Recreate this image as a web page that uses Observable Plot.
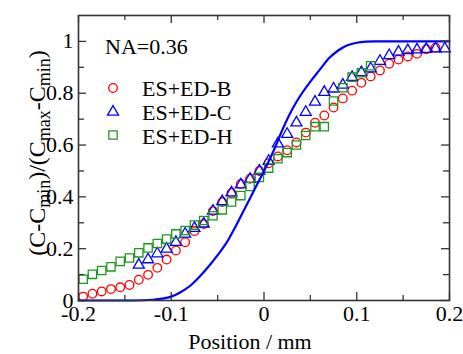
<!DOCTYPE html>
<html><head><meta charset="utf-8">
<script src="https://cdn.jsdelivr.net/npm/d3@7"></script>
<script src="https://cdn.jsdelivr.net/npm/@observablehq/plot@0.6"></script>
<style>
body{margin:0;background:#fff}
svg{display:block}
#chart svg, #chart svg text, #chart svg tspan { font-family: "Liberation Serif", serif !important; }
</style>
</head><body><div id="chart"></div>
<script>
// ES+ED-B (red circles)
const posB = [-0.195,-0.185,-0.175,-0.165,-0.155,-0.145,-0.135,-0.125,-0.115,-0.105,-0.095,-0.085,-0.075,-0.065,-0.055,-0.045,-0.035,-0.025,-0.015,-0.005,0.005,0.015,0.025,0.035,0.045,0.055,0.065,0.075,0.085,0.095,0.105,0.115,0.125,0.135,0.145,0.155,0.165,0.175,0.185];
const valB = [0.015,0.026,0.035,0.044,0.051,0.060,0.080,0.099,0.126,0.158,0.193,0.225,0.268,0.295,0.345,0.380,0.415,0.450,0.470,0.500,0.530,0.556,0.580,0.610,0.648,0.686,0.714,0.745,0.780,0.810,0.840,0.865,0.888,0.914,0.930,0.942,0.952,0.970,0.976];
// ES+ED-C (blue triangles)
const posC = [-0.135,-0.125,-0.115,-0.105,-0.095,-0.085,-0.075,-0.065,-0.055,-0.045,-0.035,-0.025,-0.015,-0.005,0.005,0.015,0.025,0.035,0.045,0.055,0.065,0.075,0.085,0.095,0.105,0.115,0.125,0.135,0.145,0.155,0.165,0.175,0.185,0.195];
const valC = [0.137,0.158,0.181,0.199,0.225,0.257,0.279,0.296,0.346,0.382,0.416,0.447,0.468,0.500,0.538,0.605,0.642,0.686,0.727,0.766,0.804,0.817,0.832,0.862,0.880,0.895,0.924,0.946,0.959,0.965,0.968,0.970,0.972,0.972];
// ES+ED-H (green squares)
const posH = [-0.195,-0.185,-0.175,-0.165,-0.155,-0.145,-0.135,-0.125,-0.115,-0.105,-0.095,-0.085,-0.075,-0.065,-0.055,-0.045,-0.035,-0.025,-0.015,-0.005,0.005,0.015,0.025,0.035,0.045,0.055,0.065,0.075,0.085,0.095,0.105,0.115];
const valH = [0.082,0.101,0.116,0.130,0.151,0.164,0.184,0.203,0.220,0.237,0.257,0.270,0.291,0.309,0.327,0.350,0.380,0.405,0.440,0.475,0.511,0.547,0.571,0.600,0.637,0.671,0.671,0.770,0.821,0.862,0.879,0.906];
// model curve (blue line)
const curveX = [-0.2,-0.15,-0.13,-0.12,-0.11,-0.10,-0.09,-0.08,-0.07,-0.06,-0.05,-0.04,-0.03,-0.02,-0.01,0,0.01,0.02,0.03,0.04,0.05,0.06,0.07,0.08,0.09,0.10,0.11,0.12,0.2];
const curveY = [0,0,0.001,0.003,0.007,0.015,0.032,0.056,0.09,0.130,0.175,0.225,0.29,0.36,0.43,0.50,0.575,0.66,0.735,0.795,0.845,0.89,0.935,0.965,0.985,0.995,0.999,1.0,1.0];
// ticks
const xMajor = [-0.2,-0.1,0,0.1,0.2];
const xMinor = [-0.15,-0.05,0.05,0.15];
const yMajor = [0,0.2,0.4,0.6,0.8,1];
const yMinor = [0.1,0.3,0.5,0.7,0.9];
const seriesNames = ["ES+ED-B","ES+ED-C","ES+ED-H"];
const annotation = "NA=0.36";
const xLabel = "Position / mm";

const W = 463, H = 354, mL = 78, mR = 14, mT = 15, mB = 54;
const iw = W - mL - mR, ih = H - mT - mB;
const RED = "#ff0000", BLUE = "#0000ff", GREEN = "#1f961f", AX = "#333";

const tbl = (xs, ys) => xs.map((x, i) => ({x, y: ys[i]}));
const dB = tbl(posB, valB), dC = tbl(posC, valC), dH = tbl(posH, valH), dL = tbl(curveX, curveY);

const rC = 4.3, rT = 4.1, rS = 4.7;

const plot = Plot.plot({
  width: W, height: H,
  marginLeft: mL, marginRight: mR, marginTop: mT, marginBottom: mB,
  style: "font-family: 'Liberation Serif', serif; font-size: 22px; background: white; color: black;",
  x: {domain: [-0.2, 0.2], axis: null},
  y: {domain: [0, 1.1], axis: null},
  marks: [
    Plot.dot(dB, {x: "x", y: "y", r: rC, symbol: "circle", stroke: RED, strokeWidth: 1.3, fill: "none"}),
    Plot.dot(dC, {x: "x", y: "y", r: rT, symbol: "triangle", stroke: BLUE, strokeWidth: 1.3, fill: "none"}),
    Plot.dot(dH, {x: "x", y: "y", r: rS, symbol: "square", stroke: GREEN, strokeWidth: 1.3, fill: "none"}),
    Plot.line(dL, {x: "x", y: "y", stroke: BLUE, strokeWidth: 2.2, curve: "monotone-x"}),
    Plot.frame({stroke: AX, strokeWidth: 1.6}),
    // inward ticks
    Plot.tickX(xMajor, {x: d => d, insetTop: ih - 8, stroke: AX, strokeWidth: 1.3}),
    Plot.tickX(xMinor, {x: d => d, insetTop: ih - 5, stroke: AX, strokeWidth: 1.3}),
    Plot.tickX(xMajor, {x: d => d, insetBottom: ih - 8, stroke: AX, strokeWidth: 1.3}),
    Plot.tickX(xMinor, {x: d => d, insetBottom: ih - 5, stroke: AX, strokeWidth: 1.3}),
    Plot.tickY(yMajor, {y: d => d, insetRight: iw - 8, stroke: AX, strokeWidth: 1.3}),
    Plot.tickY(yMinor, {y: d => d, insetRight: iw - 6, stroke: AX, strokeWidth: 1.3}),
    Plot.tickY(yMajor, {y: d => d, insetLeft: iw - 8, stroke: AX, strokeWidth: 1.3}),
    Plot.tickY(yMinor, {y: d => d, insetLeft: iw - 6, stroke: AX, strokeWidth: 1.3}),
    Plot.axisX(xMajor, {tickSize: 0, tickPadding: 5, tickFormat: d => String(d), fontSize: 22, label: null}),
    Plot.axisY(yMajor, {tickSize: 0, tickPadding: 5, tickFormat: d => String(d), fontSize: 22, label: null})
  ]
});

const svg = d3.select(plot);
// x axis label
svg.append("text").attr("x", 250).attr("y", 349).attr("text-anchor", "middle")
  .style("font-size", "22px").attr("fill", "black").text(xLabel);
// y axis label with subscripts
const yl = svg.append("text").attr("transform", "translate(45,153) rotate(-90)")
  .attr("text-anchor", "middle").style("font-size", "24px").attr("fill", "black");
const parts = [["(C-C", 0], ["min", 1], [")/(C", 0], ["max", 1], ["-C", 0], ["min", 1], [")", 0]];
let prevSub = 0;
for (const [t, sub] of parts) {
  const ts = yl.append("tspan").text(t);
  if (sub) ts.style("font-size", "18px");
  const shift = (sub ? 5 : 0) - (prevSub ? 5 : 0);
  if (shift) ts.attr("dy", shift);
  prevSub = sub;
}
// annotation
svg.append("text").attr("x", 105).attr("y", 54).attr("text-anchor", "start")
  .style("font-size", "22px").attr("fill", "black").text(annotation);
// legend
const lg = svg.append("g");
const syms = [[d3.symbolCircle, rC, RED], [d3.symbolTriangle, rT, BLUE], [d3.symbolSquare, rS, GREEN]];
const ys = [88, 112, 135], bases = [96, 120, 144];
seriesNames.forEach((name, i) => {
  const [s, r, c] = syms[i];
  lg.append("path").attr("transform", `translate(113,${ys[i]})`)
    .attr("d", d3.symbol(s, r * r * Math.PI)()).attr("fill", "none").attr("stroke", c).attr("stroke-width", 1.3);
  lg.append("text").attr("x", 142).attr("y", bases[i]).attr("text-anchor", "start")
    .style("font-size", "22px").attr("fill", "black").text(name);
});

document.getElementById("chart").appendChild(plot);
</script>
</body></html>
